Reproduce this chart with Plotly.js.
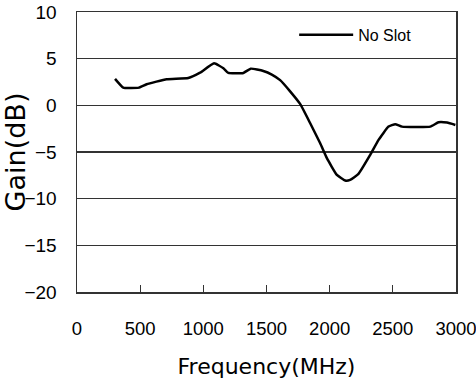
<!DOCTYPE html>
<html><head><meta charset="utf-8">
<script src="https://cdn.plot.ly/plotly-3.0.1.min.js"></script>
<style>body{margin:0;background:#fff}#c{width:476px;height:380px}</style>
</head><body><div id="c"></div>
<script>
const freqMHz = [301, 366, 490, 551, 710, 881, 974, 1085, 1159, 1198, 1317, 1375, 1475, 1542, 1608, 1687, 1766, 1846, 1925, 1978, 2057, 2123, 2162, 2228, 2321, 2387, 2466, 2519, 2572, 2797, 2862, 2929, 2995];
const gainNoSlot = [2.83, 1.9, 1.9, 2.26, 2.8, 2.93, 3.5, 4.5, 3.97, 3.47, 3.47, 3.93, 3.68, 3.3, 2.7, 1.5, 0.15, -1.92, -4.06, -5.66, -7.45, -8.06, -7.99, -7.35, -5.31, -3.7, -2.28, -2.02, -2.28, -2.28, -1.81, -1.85, -2.1];
const seriesName = "No Slot";
const xTicks = [0, 500, 1000, 1500, 2000, 2500, 3000];
const yTicks = [-20, -15, -10, -5, 0, 5, 10];

const fnt = "Liberation Sans, Arial, sans-serif";
const tfnt = "DejaVu Sans, sans-serif";
Plotly.newPlot("c", [{
  x: freqMHz, y: gainNoSlot, name: seriesName, type: "scatter", mode: "lines",
  line: {color: "#000", width: 2.5, shape: "spline", smoothing: 0.4}
}], {
  width: 476, height: 380,
  margin: {l: 77, r: 20, t: 12, b: 88},
  paper_bgcolor: "#fff", plot_bgcolor: "#fff",
  font: {family: fnt, color: "#000", size: 16},
  showlegend: true,
  legend: {x: 0.573, y: 0.918, xanchor: "left", yanchor: "middle", bgcolor: "rgba(0,0,0,0)",
           font: {size: 16, family: fnt}, itemwidth: 54},
  xaxis: {range: [0, 3000], tickvals: xTicks, ticks: "inside", ticklen: 7, tickcolor: "#333",
          showgrid: false, zeroline: false, showline: true, linecolor: "#333", linewidth: 1.5, mirror: true,
          tickfont: {size: 18.5}, ticklabelstandoff: 19, ticklabeloverflow: "allow",
          title: {text: "Frequency(MHz)", font: {size: 22, family: tfnt}, standoff: 21}},
  yaxis: {range: [-20, 10], tickvals: yTicks, ticks: "", showgrid: true, gridcolor: "#333", gridwidth: 1.2,
          zeroline: false, showline: true, linecolor: "#333", linewidth: 1.5, mirror: true,
          tickfont: {size: 19}, ticklabelstandoff: 15,
          title: {text: "Gain(dB)", font: {size: 27, family: tfnt}, standoff: 0}}
}, {displayModeBar: false, staticPlot: true});
</script></body></html>
